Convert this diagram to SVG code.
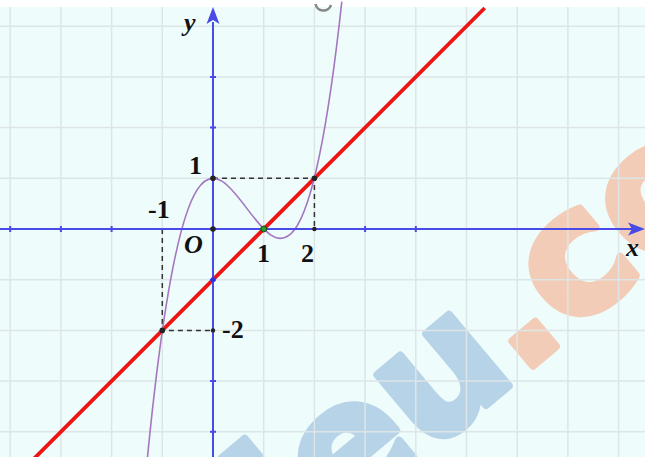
<svg xmlns="http://www.w3.org/2000/svg" width="645" height="457" viewBox="0 0 645 457">
<style>
.grid{stroke:#dde5e7;stroke-width:1.5;fill:none}
.axis{stroke:#4a4ae8;stroke-width:2;fill:none}
.tick{stroke:#4a4ae8;stroke-width:2}
.dash{stroke:#333;stroke-width:1.5;stroke-dasharray:5 4;fill:none}
.lbl{font-family:"Liberation Serif","Times New Roman",serif;font-weight:bold;font-size:26px;fill:#111}
.it{font-style:italic}
.wm{font-family:"DejaVu Sans",sans-serif;font-weight:bold;font-size:170px;stroke-width:8;stroke-linejoin:round}
.wb{fill:#b6d3e7;stroke:#b6d3e7}
.wo{fill:#f2ccb6;stroke:#f2ccb6}
.dot{fill:#222}
</style>
<rect x="0" y="0" width="645" height="457" fill="#ffffff"/>
<rect x="0" y="7" width="645" height="450" fill="#effcfc"/>
<g id="watermark">
<text class="wm" transform="translate(294,566) rotate(-40)"><tspan class="wb">ieu</tspan><tspan class="wo">.co</tspan></text>
</g>
<g id="grid">
<path class="grid" d="M10.2 7V457M60.9 7V457M111.6 7V457M162.3 7V457M263.7 7V457M314.4 7V457M365.1 7V457M415.8 7V457M466.5 7V457M517.2 7V457M567.9 7V457M618.6 7V457M0 26.2H645M0 76.9H645M0 127.6H645M0 178.3H645M0 279.7H645M0 330.4H645M0 381.1H645M0 431.8H645"/>
</g>
<path d="M315.5 4 A8 8 0 0 0 331 5" stroke="#888" stroke-width="2.5" fill="none"/>
<g id="connectors">
<path class="dash" d="M213 178.3H314.4V229"/>
<path class="dash" d="M162.3 229V330.4H213"/>
<path id="line" d="M30.5 462.2L484.7 8" stroke="#ee1414" stroke-width="3.8" fill="none"/>
<path id="curve" d="M147.1 461.1C212 -205.4 276.9 598.4 341.8 1.7" stroke="#a577c0" stroke-width="1.6" fill="none"/>
</g>
<g id="axes">
<path class="axis" d="M0 229H634M213 457V22"/>
<polygon points="645,229 628,222.5 632,229 628,235.5" fill="#4a4ae8"/>
<polygon points="213,7 206.5,24 213,20 219.5,24" fill="#4a4ae8"/>
<path class="tick" d="M10.2 226V232M60.9 226V232M111.6 226V232M263.7 226V232M365.1 226V232M415.8 226V232M210 76.9H216M210 127.6H216M210 279.7H216M210 381.1H216M210 431.8H216"/>
</g>
<g id="points">
<circle class="dot" cx="213" cy="178.3" r="2.8"/>
<circle class="dot" cx="213" cy="229" r="2.8"/>
<circle class="dot" cx="314.4" cy="178.3" r="2.8"/>
<circle class="dot" cx="162.3" cy="330.4" r="2.8"/>
<circle class="dot" cx="314.4" cy="229" r="2.2"/>
<circle class="dot" cx="213" cy="330.4" r="2.2"/>
<circle cx="263.7" cy="229" r="3" fill="#2a9a2a" stroke="#145214" stroke-width="1"/>
<circle cx="213" cy="279.7" r="2.5" fill="#3030e0"/>
</g>
<g id="labels">
<text class="lbl it" x="184" y="31">y</text>
<text class="lbl it" x="626" y="256">x</text>
<text class="lbl it" x="184" y="253" font-size="28">O</text>
<text class="lbl" x="189" y="174">1</text>
<text class="lbl" x="148" y="218">-1</text>
<text class="lbl" x="257" y="262">1</text>
<text class="lbl" x="301" y="262">2</text>
<text class="lbl" x="222" y="338">-2</text>
</g>
</svg>
